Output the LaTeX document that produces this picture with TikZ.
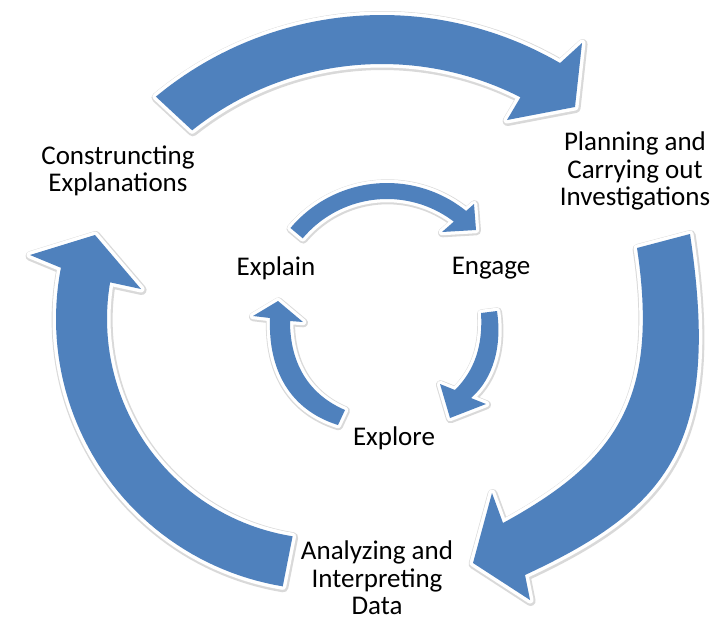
\documentclass[tikz,border=0pt]{standalone}
\usepackage{fontspec}
\setmainfont{Carlito}
\definecolor{arrowblue}{RGB}{79,129,189}
\tikzset{
  blockarrow/.style={fill=arrowblue, line join=round,
    preaction={draw=black, opacity=0.15, line width=10pt, line join=round,
      transform canvas={xshift=0.6pt,yshift=-1pt}},
    preaction={draw=white, line width=7pt, line join=round}},
  smallarrow/.style={fill=arrowblue, line join=round,
    preaction={draw=black, opacity=0.15, line width=9pt, line join=round,
      transform canvas={xshift=0.5pt,yshift=-0.8pt}},
    preaction={draw=white, line width=6.5pt, line join=round}},
  lbl/.style={font=\fontsize{27}{27.5}\selectfont, align=center, text=black, inner sep=0pt},
}
\begin{document}
\begin{tikzpicture}[x=1pt,y=-1pt]
\useasboundingbox (0,0) rectangle (718,621);

% ---- outer cycle ----
% top arrow: Constructing -> Planning
\path[blockarrow]
  plot[domain=-129.7:-59.8, samples=50, variable=\t] ({382+354*cos(\t)},{369+354*sin(\t)})
  -- (582,43) -- (575,107) -- (507,120)
  -- plot[domain=-63:-128.5, samples=50, variable=\t] ({382+305*cos(\t)},{369+305*sin(\t)})
  -- cycle;

% right arrow: Planning -> Analyzing
\path[blockarrow]
  (690,234) .. controls (721.5,444) and (669,508) .. (525,575)
  -- (530,600) -- (473,563) -- (492,493)
  -- (503,523) .. controls (617.4,460.6) and (659.5,398) .. (637,248)
  -- cycle;

% left arrow: Analyzing -> Constructing
\path[blockarrow]
  plot[domain=99.4:190.9, samples=50, variable=\t] ({327+271*cos(\t)},{319+271*sin(\t)})
  -- (30,255) -- (95,235) -- (141,289)
  -- plot[domain=189.6:99, samples=50, variable=\t] ({327+220*cos(\t)},{319+220*sin(\t)})
  -- cycle;

% ---- inner cycle ----
% top: Explain -> Engage
\path[smallarrow]
  plot[domain=-140:-51.1, samples=40, variable=\t] ({387+126*cos(\t)},{309+126*sin(\t)})
  -- (474,204) -- (476,230) -- (442,232)
  -- plot[domain=-52.6:-140, samples=40, variable=\t] ({387+110*cos(\t)},{309+110*sin(\t)})
  -- cycle;

% right: Engage -> Explore
\path[smallarrow]
  (497,311) .. controls (502,345) and (494,378) .. (471,398)
  -- (486,404) -- (450,418) -- (440,384)
  -- (455,390) .. controls (475,370) and (483,345) .. (481,313)
  -- cycle;

% left: Explore -> Explain
\path[smallarrow]
  (338,425) .. controls (290,410) and (268,370) .. (270,318)
  -- (253,316) -- (278,301) -- (303,322)
  -- (290,321) .. controls (290,365) and (310,395) .. (345,410)
  -- cycle;

% ---- labels ----
\node[lbl] (construct) at (118,171) {Construncting\\Explanations};
\node[lbl] (planning) at (635,171) {Planning and\\Carrying out\\Investigations};
\node[lbl] (analyzing) at (377,578) {Analyzing and\\Interpreting\\Data};
\node[lbl] (explain) at (276,268) {Explain};
\node[lbl] (engage) at (491,268) {Engage};
\node[lbl] (explore) at (394,438) {Explore};
\end{tikzpicture}
\end{document}
